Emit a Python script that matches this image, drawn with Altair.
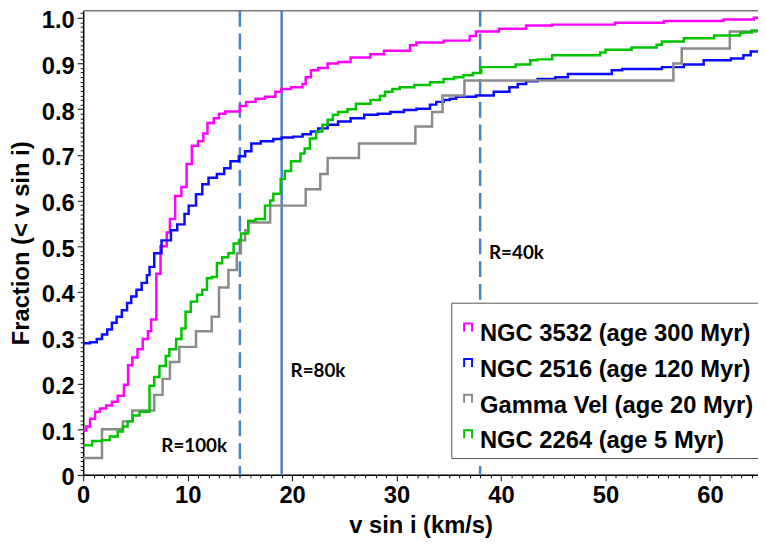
import altair as alt
import pandas as pd

# ---------------- data ----------------
series_names = ["NGC 3532 (age 300 Myr)", "NGC 2516 (age 120 Myr)",
                "Gamma Vel (age 20 Myr)", "NGC 2264 (age 5 Myr)"]
series_colors = ["#ff00ff", "#0a0aff", "#8a8a8a", "#00c400"]

v_3532 = [0, 0.3, 0.66, 1.14, 1.6, 2.2, 2.75, 3.3, 3.9, 4.3, 4.7, 5.2, 5.7, 6.2, 6.5,
          7.0, 7.4, 8.0, 8.3, 8.8, 9.4, 9.9, 10.4, 11.0, 11.5, 11.9, 12.5, 13.0, 13.6,
          15.0, 15.6, 16.5, 17.4, 18.4, 18.96, 19.9, 21.0, 21.3, 21.8, 22.5, 23.4, 24.4,
          25.6, 27.5, 28.8, 31.3, 31.9, 34.5, 37.0, 37.6, 39.8, 42.4, 44.9, 50.9, 55.6,
          61.3, 64.2]
f_3532 = [0.097, 0.106, 0.123, 0.138, 0.145, 0.152, 0.16, 0.173, 0.197, 0.24, 0.257,
          0.275, 0.297, 0.314, 0.34, 0.44, 0.50, 0.53, 0.56, 0.61, 0.63, 0.68, 0.72,
          0.73, 0.747, 0.77, 0.78, 0.79, 0.795, 0.807, 0.816, 0.823, 0.827, 0.838,
          0.844, 0.848, 0.855, 0.87, 0.885, 0.89, 0.90, 0.903, 0.913, 0.92, 0.928,
          0.94, 0.946, 0.95, 0.96, 0.97, 0.976, 0.983, 0.985, 0.989, 0.993, 0.996, 1.0]

v_2516 = [0, 0.66, 1.3, 1.8, 2.3, 2.75, 3.2, 3.7, 4.2, 4.6, 5.1, 5.6, 6.1, 6.35, 6.8,
          7.5, 8.4, 9.0, 9.7, 10.1, 10.8, 11.4, 12.0, 12.8, 13.5, 14.1, 14.9, 15.5,
          16.1, 17.0, 18.2, 19.0, 20.1, 21.0, 21.8, 22.5, 23.4, 24.4, 25.6, 26.9, 28.2,
          29.4, 30.7, 31.9, 33.2, 33.8, 34.5, 35.1, 35.7, 37.6, 39.3, 40.8, 41.6, 42.4,
          43.5, 45.2, 46.4, 50.6, 51.6, 55.4, 57.5, 59.4, 62.0, 63.2, 63.9]
f_2516 = [0.288, 0.29, 0.297, 0.307, 0.318, 0.333, 0.346, 0.36, 0.376, 0.39, 0.405,
          0.42, 0.437, 0.455, 0.485, 0.513, 0.535, 0.548, 0.571, 0.589, 0.614, 0.636,
          0.65, 0.658, 0.671, 0.686, 0.697, 0.708, 0.725, 0.73, 0.735, 0.738, 0.74,
          0.745, 0.751, 0.758, 0.766, 0.773, 0.78, 0.788, 0.79, 0.794, 0.798, 0.801,
          0.81, 0.816, 0.82, 0.823, 0.827, 0.83, 0.838, 0.848, 0.855, 0.861, 0.866,
          0.87, 0.877, 0.885, 0.888, 0.892, 0.898, 0.907, 0.911, 0.918, 0.926]

v_gv = [0, 1.8, 3.8, 4.7, 6.8, 7.6, 8.3, 9.2, 10.8, 12.3, 13.0, 13.9, 14.7, 15.1, 15.5,
        15.8, 17.9, 21.3, 22.7, 23.4, 26.4, 31.8, 33.4, 34.4, 36.5, 56.5, 57.3, 61.9]
f_gv = [0.037, 0.10, 0.117, 0.141, 0.175, 0.21, 0.247, 0.28, 0.314, 0.346, 0.41, 0.448,
        0.485, 0.513, 0.535, 0.552, 0.589, 0.625, 0.658, 0.693, 0.725, 0.762, 0.794,
        0.83, 0.863, 0.90, 0.933, 0.97]

v_2264 = [0, 0.85, 1.8, 2.55, 3.3, 3.8, 4.25, 4.75, 5.4, 6.35, 6.8, 7.3, 7.9, 8.25, 8.9,
          9.4, 9.8, 10.3, 10.9, 11.4, 11.85, 12.3, 12.8, 13.3, 13.9, 14.4, 14.9, 15.1,
          15.8, 16.5, 17.4, 17.9, 18.2, 18.9, 19.3, 19.9, 20.8, 21.2, 21.7, 22.3, 22.9,
          23.4, 23.9, 24.4, 25.3, 26.1, 27.5, 28.4, 28.9, 29.6, 30.3, 31.7, 33.2, 34.5,
          35.5, 36.4, 37.3, 38.1, 41.4, 42.8, 43.5, 44.9, 49.5, 50.0, 52.5, 54.9, 55.4,
          57.5, 60.4, 62.9, 64.0]
f_2264 = [0.065, 0.074, 0.076, 0.084, 0.095, 0.106, 0.117, 0.13, 0.138, 0.195, 0.214,
          0.238, 0.26, 0.275, 0.297, 0.32, 0.357, 0.379, 0.394, 0.405, 0.43, 0.433,
          0.463, 0.476, 0.485, 0.506, 0.513, 0.528, 0.556, 0.56, 0.589, 0.60, 0.615,
          0.647, 0.665, 0.686, 0.703, 0.714, 0.736, 0.751, 0.766, 0.777, 0.788, 0.794,
          0.80, 0.812, 0.82, 0.829, 0.838, 0.844, 0.848, 0.853, 0.859, 0.866, 0.87,
          0.874, 0.879, 0.892, 0.898, 0.907, 0.909, 0.918, 0.924, 0.93, 0.935, 0.941,
          0.948, 0.955, 0.961, 0.968, 0.972]

# resolution markers
res_v = [15, 19, 38]
res_label = ["R=100k", "R=80k", "R=40k"]
res_style = ["dashed", "solid", "dashed"]
res_side = ["left", "right", "right"]
res_label_f = [0.063, 0.227, 0.485]

x_max = 64.6
y_max = 1.0152

# ---------------- tables ----------------
rows = []
for name, vs, fs in zip(series_names, [v_3532, v_2516, v_gv, v_2264],
                        [f_3532, f_2516, f_gv, f_2264]):
    for i, (v, f) in enumerate(zip(vs, fs)):
        rows.append({"series": name, "v": v, "f": f, "order": i})
    rows.append({"series": name, "v": x_max, "f": fs[-1], "order": len(vs)})
df = pd.DataFrame(rows)

ann = pd.DataFrame({"v": res_v, "label": res_label, "style": res_style,
                    "side": res_side, "f": res_label_f})

W, H = 682, 469
FONT = "Liberation Sans"

xs = alt.Scale(domain=[0, x_max], nice=False, zero=False)
ys = alt.Scale(domain=[0, y_max], nice=False, zero=False)

x_major = "datum.value % 10 === 0"
y_major = "abs(datum.value*10 - round(datum.value*10)) < 0.001"

x_axis = alt.Axis(
    values=list(range(0, 65)),
    labelExpr=f"{x_major} ? format(datum.value, 'd') : ''",
    tickSize={"condition": {"test": x_major, "value": 6}, "value": 3},
    grid=False, domainColor="black", domainWidth=1.5, tickColor="black",
    tickWidth=1, labelFont=FONT, labelFontWeight="bold", labelFontSize=24,
    labelColor="black", labelPadding=3, labelOverlap=False, labelFlush=False,
    title="v sin i (km/s)", titleFont=FONT, titleFontWeight="bold",
    titleFontSize=24, titleColor="black", titlePadding=6,
)
y_axis = alt.Axis(
    values=[i / 100 for i in range(0, 102)],
    labelExpr=f"{y_major} ? (datum.value == 0 ? '0' : format(datum.value, '.1f')) : ''",
    tickSize={"condition": {"test": y_major, "value": 6}, "value": 3},
    grid=False, domainColor="black", domainWidth=1.5, tickColor="black",
    tickWidth=1, labelFont=FONT, labelFontWeight="bold", labelFontSize=24,
    labelColor="black", labelPadding=3, labelOffset=3, labelOverlap=False,
    labelFlush=False,
    title="Fraction (< v sin i)", titleFont=FONT, titleFontWeight="bold",
    titleFontSize=24, titleColor="black", titlePadding=8,
)

X = alt.X("v:Q", scale=xs, axis=x_axis)
Y = alt.Y("f:Q", scale=ys, axis=y_axis)

rules = alt.Chart(ann).mark_rule(strokeWidth=2.5, color="#4a80c8").encode(
    x=X,
    strokeDash=alt.StrokeDash("style:N",
                              scale=alt.Scale(domain=["dashed", "solid"],
                                              range=[[16, 7], [1, 0]]),
                              legend=None),
)

lines = alt.Chart(df).mark_line(interpolate="step-after", strokeWidth=2.5).encode(
    x=X,
    y=Y,
    color=alt.Color(
        "series:N",
        scale=alt.Scale(domain=series_names, range=series_colors),
        legend=alt.Legend(
            title=" ", titleFontSize=15, titlePadding=0,
            orient="none", legendX=372, legendY=295,
            fillColor="white", strokeColor="#555555", padding=5,
            labelFont=FONT, labelFontWeight="bold", labelFontSize=24,
            labelColor="black", labelLimit=400, labelOffset=0,
            symbolType="M-2,-1.5L-2,-5.5L2,-5.5L2,-1.5",
            symbolSize=16, symbolStrokeWidth=2, symbolFillColor="transparent",
            rowPadding=9,
        ),
    ),
    order="order:Q",
)

txt_left = alt.Chart(ann).transform_filter("datum.side == 'left'").mark_text(
    align="right", baseline="middle", dx=-13, font="Lato", fontWeight="bold",
    fontSize=19, color="black",
).encode(x=X, y=Y, text="label:N")

txt_right = alt.Chart(ann).transform_filter("datum.side == 'right'").mark_text(
    align="left", baseline="middle", dx=9, font="Lato", fontWeight="bold",
    fontSize=19, color="black",
).encode(x=X, y=Y, text="label:N")

top_border = alt.Chart(pd.DataFrame({"a": [0]})).mark_rule(
    color="#777777", strokeWidth=1.5
).encode(x=alt.value(0), x2=alt.value(W), y=alt.value(0))

chart = alt.layer(rules, lines, txt_left, txt_right, top_border).properties(
    width=W, height=H,
    autosize=alt.AutoSizeParams(type="none"),
    padding={"left": 76, "top": 0, "right": 0, "bottom": 65},
).configure_view(stroke=None)

chart.save("out.html", embed_options={"renderer": "svg", "actions": False})
